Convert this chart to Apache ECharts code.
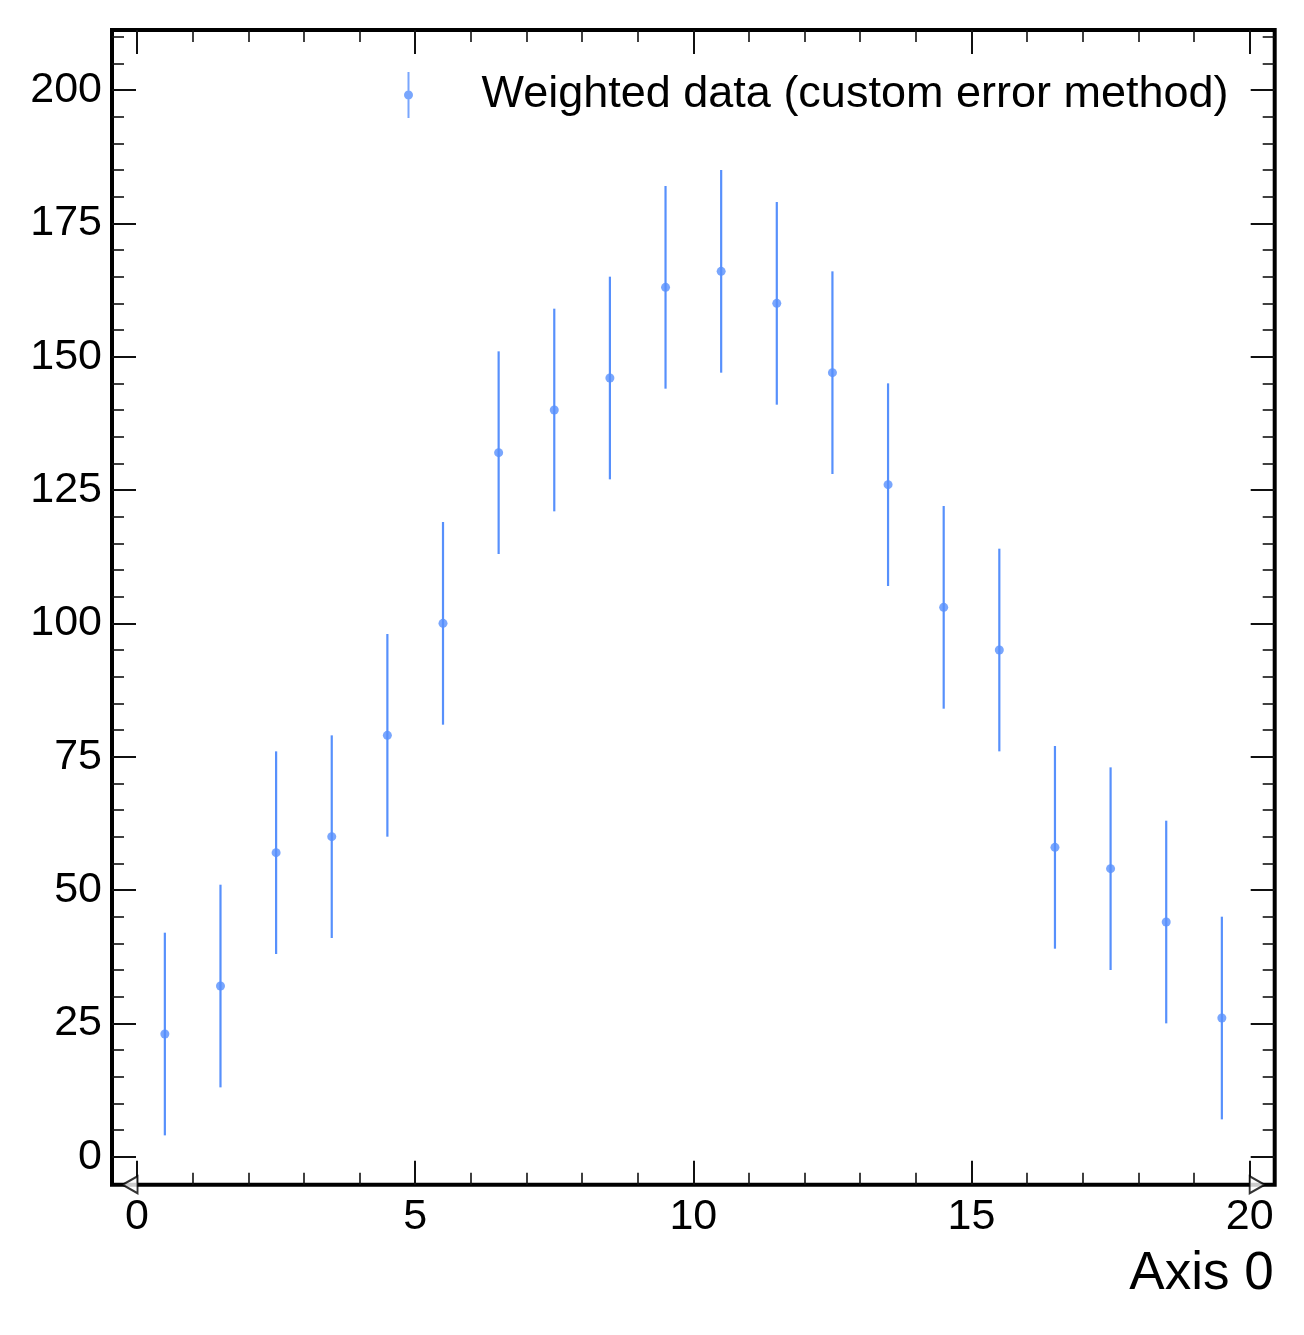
<!DOCTYPE html>
<html>
<head>
<meta charset="utf-8">
<script src="https://cdn.jsdelivr.net/npm/echarts@6/dist/echarts.min.js"></script>
<style>
html,body{margin:0;padding:0;background:#fff;}
#chart{width:1304px;height:1335px;}
</style>
</head>
<body>
<div id="chart"></div>
<script>
// ---- data ----
const binCenters = [0.5, 1.5, 2.5, 3.5, 4.5, 5.5, 6.5, 7.5, 8.5, 9.5, 10.5, 11.5, 12.5, 13.5, 14.5, 15.5, 16.5, 17.5, 18.5, 19.5];
const counts = [23, 32, 57, 60, 79, 100, 132, 140, 146, 163, 166, 160, 147, 126, 103, 95, 58, 54, 44, 26];
const errors = [19, 19, 19, 19, 19, 19, 19, 19, 19, 19, 19, 19, 19, 19, 19, 19, 19, 19, 19, 19];
const flowEdges = [0, 20];
const xMajorTicks = [0, 5, 10, 15, 20];
const xMinorTicks = [1, 2, 3, 4, 6, 7, 8, 9, 11, 12, 13, 14, 16, 17, 18, 19];
const yMajorTicks = [0, 25, 50, 75, 100, 125, 150, 175, 200];
const yMinorTicks = [5, 10, 15, 20, 30, 35, 40, 45, 55, 60, 65, 70, 80, 85, 90, 95, 105, 110, 115, 120, 130, 135, 140, 145, 155, 160, 165, 170, 180, 185, 190, 195, 205, 210];
const seriesName = 'Weighted data (custom error method)';
const xAxisName = 'Axis 0';

// ---- layout / style ----
const X_MIN = -0.45, X_MAX = 20.45;
const Y_MIN = -5.25, Y_MAX = 211.25;
const BLUE = '#5790fc';
const FONT = '"Liberation Sans", Arial, Helvetica, sans-serif';

function axis(dim, position, ticks, len, width, withLabels) {
  const a = {
    type: 'value',
    position: position,
    min: dim === 'x' ? X_MIN : Y_MIN,
    max: dim === 'x' ? X_MAX : Y_MAX,
    axisLine: { show: false, onZero: false },
    splitLine: { show: false },
    axisTick: {
      show: true, inside: true, length: len, customValues: ticks,
      lineStyle: { color: '#111', width: width }
    },
    axisLabel: { show: false },
    axisPointer: { show: false }
  };
  if (withLabels) {
    a.axisLabel = {
      show: true, customValues: ticks, fontSize: 43, color: '#000',
      fontFamily: FONT, margin: dim === 'x' ? 11 : 10,
      padding: dim === 'y' ? [5, 0, 0, 0] : 0
    };
  }
  return a;
}

const xBottom = axis('x', 'bottom', xMajorTicks, 24, 2, true);
xBottom.name = xAxisName;
xBottom.nameLocation = 'end';
xBottom.nameGap = -1;
xBottom.nameTextStyle = {
  fontSize: 53, color: '#000', fontFamily: FONT,
  align: 'right', verticalAlign: 'top', padding: [63, 0, 0, 0]
};

const option = {
  backgroundColor: '#fff',
  animation: false,
  textStyle: { fontFamily: FONT },
  grid: {
    left: 112, right: 29.3, top: 30, bottom: 150.3,
    containLabel: false, outerBoundsMode: 'none',
    show: true, borderColor: '#000', borderWidth: 4, backgroundColor: 'transparent'
  },
  legend: {
    data: [{
      name: seriesName,
      icon: 'path://M4,0h2v46h-2z M9.5,23a4.5,4.5 0 1,1 -9,0a4.5,4.5 0 1,1 9,0z'
    }],
    left: 404, top: 72, padding: 0,
    itemWidth: 10, itemHeight: 46,
    selectedMode: false,
    textStyle: { fontSize: 45, color: '#000', fontFamily: FONT, padding: [0, 0, 0, 63] }
  },
  xAxis: [
    xBottom,
    axis('x', 'bottom', xMinorTicks, 12, 1.6, false),
    axis('x', 'top', xMajorTicks, 24, 2, false),
    axis('x', 'top', xMinorTicks, 12, 1.6, false)
  ],
  yAxis: [
    axis('y', 'left', yMajorTicks, 24, 2, true),
    axis('y', 'left', yMinorTicks, 12, 1.6, false),
    axis('y', 'right', yMajorTicks, 24, 2, false),
    axis('y', 'right', yMinorTicks, 12, 1.6, false)
  ],
  series: [
    {
      name: 'error bars',
      type: 'custom',
      xAxisIndex: 0, yAxisIndex: 0,
      data: binCenters.map((c, i) => [c, counts[i] - errors[i], counts[i] + errors[i]]),
      encode: { x: 0, y: [1, 2] },
      renderItem: function (params, api) {
        const p1 = api.coord([api.value(0), api.value(1)]);
        const p2 = api.coord([api.value(0), api.value(2)]);
        return {
          type: 'line',
          shape: { x1: p1[0], y1: p1[1], x2: p2[0], y2: p2[1] },
          style: { stroke: BLUE, lineWidth: 2.2 }
        };
      },
      silent: true, z: 3
    },
    {
      name: seriesName,
      type: 'scatter',
      xAxisIndex: 0, yAxisIndex: 0,
      data: binCenters.map((c, i) => [c, counts[i]]),
      symbol: 'circle', symbolSize: 9,
      itemStyle: { color: BLUE },
      silent: true, z: 4
    },
    {
      name: 'flow markers',
      type: 'scatter',
      xAxisIndex: 0, yAxisIndex: 0,
      clip: false,
      data: flowEdges.map((e, i) => ({
        value: [e, Y_MIN],
        symbolRotate: i === 0 ? 90 : -90,
        symbolOffset: i === 0 ? [-7, 0] : [7.5, 0]
      })),
      symbol: 'triangle', symbolSize: [17, 15],
      itemStyle: { color: '#fff', borderColor: '#000', borderWidth: 2 },
      silent: true, z: 5
    }
  ]
};

const chart = echarts.init(document.getElementById('chart'), null, { renderer: 'canvas' });
chart.setOption(option);
</script>
</body>
</html>
